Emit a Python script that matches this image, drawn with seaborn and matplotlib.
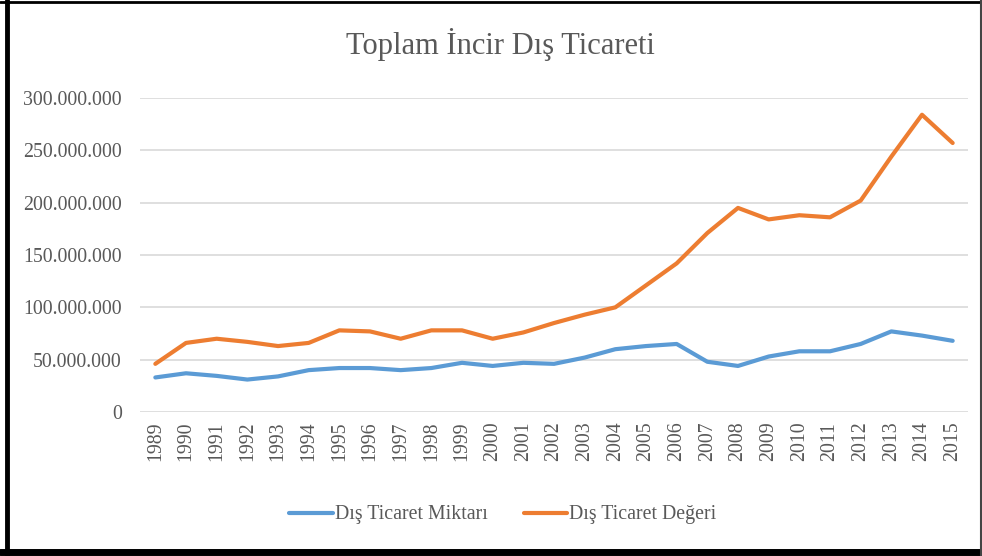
import pandas as pd
import seaborn as sns
import matplotlib.pyplot as plt
from matplotlib.lines import Line2D

# --- Datos ---
yillar = list(range(1989, 2016))
miktar = [33, 37, 34.5, 31, 34, 40, 42, 42, 40, 42, 47, 44, 47, 46, 52,
          60, 63, 65, 48, 44, 53, 58, 58, 65, 77, 73, 68]
deger = [46, 66, 70, 67, 63, 66, 78, 77, 70, 78, 78, 70, 76, 85, 93,
         100, 121, 142, 171, 195, 184, 188, 186, 202, 244, 284, 257]
seriler = ['Dış Ticaret Miktarı', 'Dış Ticaret Değeri']
y_ticks = [0, 50e6, 100e6, 150e6, 200e6, 250e6, 300e6]
y_labels = ['0', '50.000.000', '100.000.000', '150.000.000',
            '200.000.000', '250.000.000', '300.000.000']
baslik = 'Toplam İncir Dış Ticareti'

df = pd.DataFrame({
    'yil': [str(y) for y in yillar] * 2,
    'deger': [v * 1e6 for v in miktar] + [v * 1e6 for v in deger],
    'seri': [seriler[0]] * len(yillar) + [seriler[1]] * len(yillar),
})
df['pos'] = list(range(len(yillar))) * 2

sns.set_style('white')
plt.rcParams['font.family'] = ['Liberation Serif', 'DejaVu Serif']
gri = '#595959'

fig = plt.figure(figsize=(9.82, 5.56), dpi=100)
ax = fig.add_axes([140 / 982, 144 / 556, 828 / 982, 314 / 556])

sns.lineplot(data=df, x='pos', y='deger', hue='seri', hue_order=seriler,
             palette=['#5B9BD5', '#ED7D31'], linewidth=3, ax=ax,
             legend=False)

ax.set_xlim(-0.5, len(yillar) - 0.5)
ax.set_ylim(0, 300e6)
ax.set_xticks(range(len(yillar)))
ax.set_xticklabels([str(y) for y in yillar], rotation=90, fontsize=14.3, color=gri)
ax.set_yticks(y_ticks)
ax.set_yticklabels(y_labels, fontsize=14.3, color=gri)
ax.tick_params(length=0, pad=13)
ax.tick_params(axis='x', pad=7)
ax.set_xlabel('')
ax.set_ylabel('')
for s in ax.spines.values():
    s.set_visible(False)
ax.yaxis.grid(True, color='#D9D9D9', linewidth=1.2)
ax.set_axisbelow(True)

fig.text(500 / 982, 1 - 45 / 556, baslik, ha='center', va='center',
         fontsize=22, color=gri)

handles = [Line2D([], [], color=c, linewidth=3) for c in ['#5B9BD5', '#ED7D31']]
fig.legend(handles, seriler, loc='center', bbox_to_anchor=(503 / 982, 1 - 515 / 556),
           ncol=2, frameon=False, fontsize=14.3, labelcolor=gri,
           handlelength=2.2, handletextpad=0.1, columnspacing=1.8)

# marco negro
fig.add_artist(Line2D([7 / 982, 7 / 982], [0, 1], color='black', linewidth=3.5))
fig.add_artist(Line2D([0, 1], [1 - 1.5 / 556, 1 - 1.5 / 556], color='black', linewidth=2))
fig.add_artist(Line2D([0, 1], [4 / 556, 4 / 556], color='black', linewidth=5))
fig.add_artist(Line2D([981 / 982, 981 / 982], [0, 1], color='#444444', linewidth=1.5))

fig.savefig('out.png', dpi=100)
